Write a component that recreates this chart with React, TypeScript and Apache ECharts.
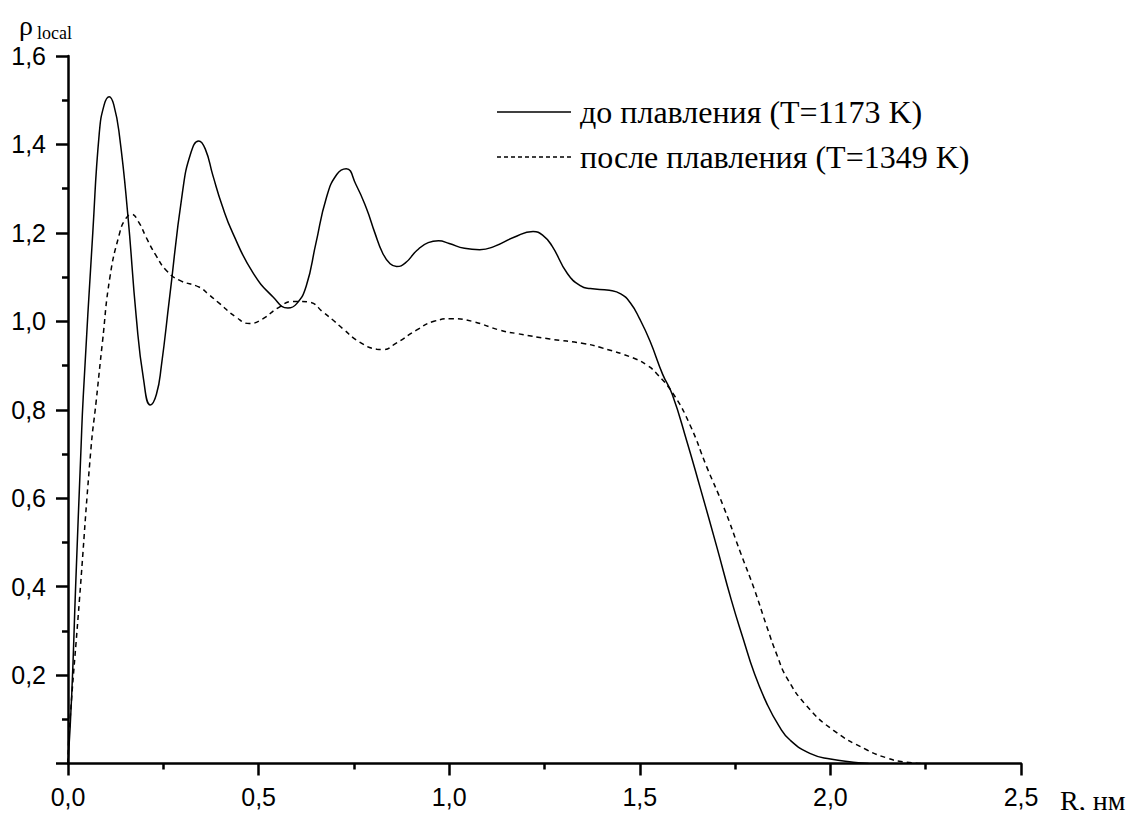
import React, { useEffect, useRef } from "react";
import * as echarts from "echarts";

const seriesNames = ["до плавления (T=1173 K)", "после плавления (T=1349 K)"];

const solidR = [
  0, 0.01, 0.02, 0.034, 0.04, 0.065, 0.082, 0.095, 0.108, 0.12, 0.135, 0.157, 0.179, 0.198, 0.216, 0.232,
  0.245, 0.266, 0.3, 0.322, 0.343, 0.36, 0.38, 0.405, 0.432, 0.485, 0.538, 0.577, 0.6, 0.625, 0.65, 0.678,
  0.705, 0.73, 0.755, 0.783, 0.805, 0.825, 0.845, 0.862, 0.885, 0.915, 0.945, 0.972, 1.0, 1.04, 1.08, 1.12,
  1.17, 1.22, 1.245, 1.27, 1.31, 1.345, 1.37, 1.42, 1.45, 1.475, 1.5, 1.527, 1.56, 1.585, 1.623, 1.658,
  1.702, 1.74, 1.772, 1.8, 1.833, 1.865, 1.894, 1.946, 2.0, 2.06, 2.1,
];
const solidRho = [
  0, 0.16, 0.4, 0.71, 0.83, 1.2, 1.425, 1.49, 1.508, 1.49, 1.42, 1.24, 1.01, 0.87, 0.811, 0.835,
  0.9, 1.05, 1.29, 1.38, 1.408, 1.39, 1.33, 1.26, 1.2, 1.11, 1.055, 1.03, 1.04, 1.08, 1.175, 1.28,
  1.332, 1.345, 1.31, 1.255, 1.2, 1.155, 1.13, 1.124, 1.132, 1.16, 1.178, 1.182, 1.176, 1.165, 1.162, 1.17,
  1.19, 1.203, 1.195, 1.17, 1.108, 1.08, 1.074, 1.07, 1.062, 1.042, 1.005, 0.955, 0.88, 0.835, 0.73, 0.625,
  0.49, 0.37, 0.28, 0.205, 0.136, 0.085, 0.053, 0.023, 0.01, 0.003, 0,
];

const dashR = [
  0, 0.003, 0.03, 0.06, 0.074, 0.09, 0.11, 0.135, 0.15, 0.167, 0.185, 0.205, 0.23, 0.258, 0.292, 0.345,
  0.37, 0.398, 0.44, 0.476, 0.51, 0.55, 0.59, 0.61, 0.635, 0.67, 0.695, 0.72, 0.765, 0.81, 0.826, 0.86,
  0.914, 0.96, 1.01, 1.06, 1.133, 1.18, 1.264, 1.352, 1.4, 1.483, 1.52, 1.544, 1.587, 1.632, 1.675, 1.72,
  1.765, 1.8, 1.833, 1.86, 1.885, 1.938, 2.008, 2.095, 2.15, 2.19, 2.24,
];
const dashRho = [
  0, 0.07, 0.37, 0.71, 0.82, 0.95, 1.1, 1.198, 1.23, 1.242, 1.225, 1.19, 1.15, 1.115, 1.093, 1.077,
  1.06, 1.04, 1.01, 0.995, 1.005, 1.03, 1.045, 1.045, 1.043, 1.02, 1.003, 0.984, 0.953, 0.937, 0.936, 0.95,
  0.98, 1.0, 1.006, 1.0, 0.98, 0.972, 0.96, 0.95, 0.94, 0.917, 0.9, 0.882, 0.837, 0.765, 0.672, 0.58,
  0.475, 0.395, 0.31, 0.245, 0.195, 0.13, 0.075, 0.031, 0.012, 0.004, 0,
];

const xTicks = { min: 0, max: 2.5, interval: 0.5 };
const yTicks = { min: 0, max: 1.6, interval: 0.2 };

const fmt = (v: number) => v.toFixed(1).replace(".", ",");

export default function App() {
  const ref = useRef<HTMLDivElement>(null);
  useEffect(() => {
    if (!ref.current) return;
    const chart = echarts.init(ref.current, null, { renderer: "svg" });
    const sans = "Liberation Sans, Arial, sans-serif";
    const serif = "Liberation Serif, Times New Roman, serif";
    const axisStyle = { color: "#000000", width: 2.5, opacity: 1, type: "solid" };
    const axisCommon = {
      axisLine: { show: true, onZero: false, lineStyle: axisStyle },
      axisTick: { show: true, inside: false, length: 12, lineStyle: axisStyle },
      minorTick: { show: true, splitNumber: 2, length: 6, lineStyle: axisStyle },
      splitLine: { show: false },
      minorSplitLine: { show: false },
    };
    const legendLines = [
      { y: 112, dash: null as number[] | null },
      { y: 157, dash: [4, 3] },
    ];
    chart.setOption({
      animation: false,
      backgroundColor: "#fff",
      grid: { left: 68, right: 117, top: 56, bottom: 54.5, containLabel: false },
      xAxis: {
        type: "value",
        ...xTicks,
        ...axisCommon,
        axisLabel: {
          fontFamily: sans,
          fontSize: 25,
          color: "#000",
          margin: 21,
          formatter: (v: number) => fmt(v),
        },
      },
      yAxis: {
        type: "value",
        ...yTicks,
        ...axisCommon,
        axisLabel: {
          fontFamily: sans,
          fontSize: 25,
          color: "#000",
          margin: 22,
          formatter: (v: number) => (v === 0 ? "" : fmt(v)),
        },
      },
      graphic: [
        { type: "text", left: 19, top: 11, style: { text: "ρ", font: `28px ${serif}`, fill: "#000" } },
        { type: "text", left: 37, top: 24, style: { text: "local", font: `18px ${serif}`, fill: "#000" } },
        { type: "text", left: 1060, top: 786, style: { text: "R, нм", font: `28px ${serif}`, fill: "#000" } },
        ...legendLines.map((l) => ({
          type: "line",
          shape: { x1: 497, y1: l.y, x2: 571, y2: l.y },
          style: { stroke: "#000", lineWidth: 1.4, lineDash: l.dash || undefined },
        })),
        ...seriesNames.map((n, i) => ({
          type: "text",
          x: 580,
          y: legendLines[i].y,
          style: { text: n, font: `32px ${serif}`, fill: "#000", verticalAlign: "middle", align: "left" },
        })),
      ],
      series: [
        {
          name: seriesNames[0],
          type: "line",
          data: solidR.map((r, i) => [r, solidRho[i]]),
          showSymbol: false,
          symbol: "none",
          smooth: 0.5,
          lineStyle: { color: "#000", width: 1.5, type: "solid" },
          itemStyle: { color: "#000" },
        },
        {
          name: seriesNames[1],
          type: "line",
          data: dashR.map((r, i) => [r, dashRho[i]]),
          showSymbol: false,
          symbol: "none",
          smooth: 0.5,
          lineStyle: { color: "#000", width: 1.5, type: [5, 4] },
          itemStyle: { color: "#000" },
        },
      ],
    });
    return () => chart.dispose();
  }, []);
  return <div ref={ref} style={{ width: 1138, height: 818, margin: -8 }} />;
}
